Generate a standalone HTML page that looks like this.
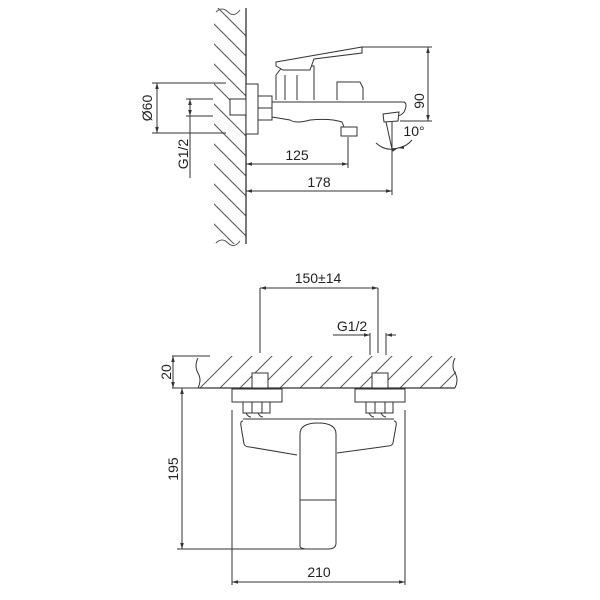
<!DOCTYPE html>
<html><head><style>body{margin:0;background:#fff}svg{display:block}text{font-family:"Liberation Sans",sans-serif;fill:#222;font-size:14px}</style></head><body>
<svg width="600" height="600" viewBox="0 0 600 600" xmlns="http://www.w3.org/2000/svg">
<defs>
<clipPath id="w1"><rect x="214" y="8" width="32" height="236"/></clipPath>
<clipPath id="w2"><rect x="200" y="356" width="256" height="32"/></clipPath>
<marker id="a" viewBox="0 0 10 10" refX="10" refY="5" markerWidth="6" markerHeight="6" orient="auto-start-reverse"><path d="M0,2 L10,5 L0,8" fill="#333"/></marker>
</defs>
<g stroke="#333" fill="none" stroke-width="1">
<g clip-path="url(#w1)" stroke="#555">
<path d="M200,-10 l60,60 M200,10 l60,60 M200,30 l60,60 M200,50 l60,60 M200,70 l60,60 M200,90 l60,60 M200,110 l60,60 M200,130 l60,60 M200,150 l60,60 M200,170 l60,60 M200,190 l60,60 M200,210 l60,60 M200,230 l60,60"/>
</g>
<path d="M246,8 V244" stroke-width="1.3"/>
<path d="M216,12 q6,-6 12,0 t12,-2 M216,243 q6,-6 12,0 t12,-2" stroke="#555"/>
<rect x="246" y="84" width="12" height="50" fill="#fff"/>
<rect x="230" y="99" width="16" height="16" fill="#fff"/>
<rect x="258" y="96" width="14" height="24" fill="#fff"/>
<path d="M258,108 H272"/>
<path d="M276,100 V75 L283,66 H314 V100"/>
<path d="M285,75 V100 M297,75 V100"/>
<path d="M276,62 L362,47 V53 L314,59 L310,70 H283 L276,66 Z" fill="#fff"/>
<path d="M272,102 H404 Q408,104 404,112 Q400,118 385,117"/>
<path d="M272,117 L290,120 Q296,124 310,120 Q330,118 342,122 L344,127"/>
<path d="M337,100 V82 H360 L363,88 V100"/>
<rect x="341" y="127" width="16" height="9" fill="#fff"/>
<path d="M383,114 L399,112 L398,121 L384,122 Z" fill="#fff"/>
<path d="M362,47 H432 M400,121 H432"/>
<path d="M428,47 V121" marker-start="url(#a)" marker-end="url(#a)"/>
<path d="M152,83 H226 M152,133 H226"/>
<path d="M157,83 V133" marker-start="url(#a)" marker-end="url(#a)"/>
<path d="M186,99 H213 M186,116 H213"/>
<path d="M190,99 V178"/><path d="M190,108 V99" marker-end="url(#a)"/><path d="M190,108 V116" marker-end="url(#a)"/>
<path d="M348,137 V168 M392,122 V195"/>
<path d="M246,164 H348" marker-start="url(#a)" marker-end="url(#a)"/>
<path d="M246,191 H392" marker-start="url(#a)" marker-end="url(#a)"/>
<path d="M386,122 L392,149"/>
<path d="M376,143 Q386,152 398,148" marker-end="url(#a)"/>
<path d="M412,140 Q406,147 398,148" marker-end="url(#a)"/>
<g clip-path="url(#w2)" stroke="#555">
<path d="M190,398 l50,-50 M210,398 l50,-50 M230,398 l50,-50 M250,398 l50,-50 M270,398 l50,-50 M290,398 l50,-50 M310,398 l50,-50 M330,398 l50,-50 M350,398 l50,-50 M370,398 l50,-50 M390,398 l50,-50 M410,398 l50,-50 M430,398 l50,-50 M450,398 l50,-50"/>
</g>
<path d="M199,388 H455" stroke-width="1.3"/>
<path d="M172,356 H210 M198,358 q-4,8 0,15 t0,15 M455,358 q-4,8 0,15 t0,15" />
<rect x="252" y="373" width="16" height="15" fill="#fff"/>
<rect x="372" y="373" width="16" height="15" fill="#fff"/>
<rect x="232" y="389" width="50" height="13" fill="#fff"/>
<rect x="355" y="389" width="50" height="13" fill="#fff"/>
<path d="M243,402 V413 H270 V402 M252,402 V413 M262,402 V413 M366,402 V413 H393 V402 M375,402 V413 M385,402 V413"/>
<path d="M246,413 q2,4 5,4 M258,413 q2,4 5,4 M369,413 q2,4 5,4 M381,413 q2,4 5,4"/>
<path d="M243,419 H394"/>
<path d="M243,421 Q240,421 241,426 L244,444 Q245,447 250,447 L297,455"/>
<path d="M394,421 Q397,421 396,426 L393,443 Q392,446 388,446 L337,453"/>
<path d="M300,546 V434 Q300,423 318,423 Q336,423 336,434 V543 Q336,549 328,549 H308 Q300,549 300,546 Z" fill="#fff"/>
<path d="M300,500 H336"/>
<path d="M173,356 V388" marker-start="url(#a)" marker-end="url(#a)"/>
<path d="M172,388 H199"/>
<path d="M182,388 V549" marker-start="url(#a)" marker-end="url(#a)"/>
<path d="M177,549 H305"/>
<path d="M232,410 V585 M405,410 V585"/>
<path d="M232,582 H405" marker-start="url(#a)" marker-end="url(#a)"/>
<path d="M260,288 V353 M378,288 V353"/>
<path d="M260,288 H378" marker-start="url(#a)" marker-end="url(#a)"/>
<path d="M333,335 H370 M370,333 V355 M386,333 V355"/>
<path d="M360,335 H370" marker-end="url(#a)"/><path d="M396,335 H386" marker-end="url(#a)"/>
</g>
<text x="410" y="87" transform="rotate(-90 424 87)" text-anchor="middle">90</text>
<text x="150" y="110" transform="rotate(-90 150 108)" text-anchor="middle">Ø60</text>
<text x="184" y="158" transform="rotate(-90 184 154)" text-anchor="middle">G1/2</text>
<text x="297" y="160" text-anchor="middle">125</text>
<text x="319" y="187" text-anchor="middle">178</text>
<text x="414" y="136" text-anchor="middle">10°</text>
<text x="318" y="283" text-anchor="middle">150±14</text>
<text x="352" y="331" text-anchor="middle">G1/2</text>
<text x="166" y="377" transform="rotate(-90 166 372)" text-anchor="middle">20</text>
<text x="173" y="474" transform="rotate(-90 173 469)" text-anchor="middle">195</text>
<text x="319" y="577" text-anchor="middle">210</text>
</svg>
</body></html>
